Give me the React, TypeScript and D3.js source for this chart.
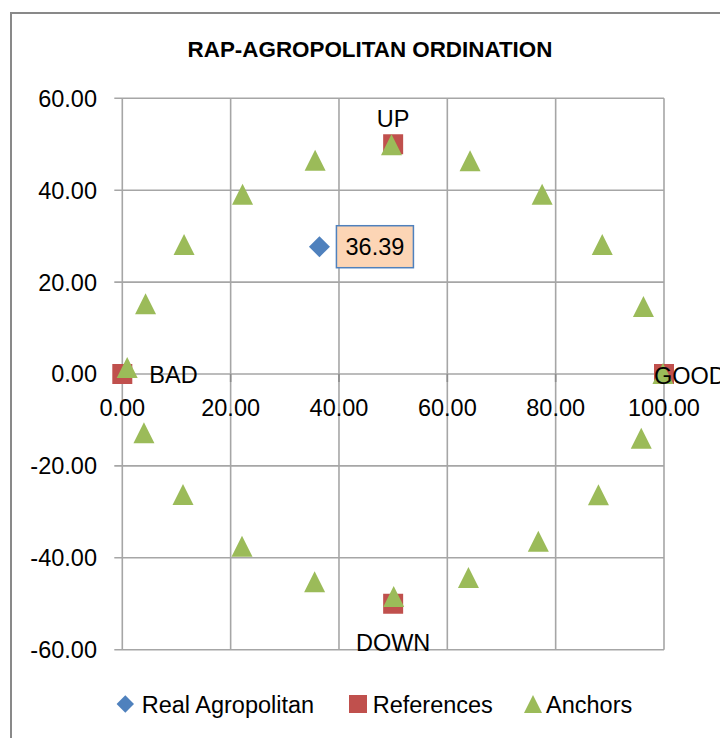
import React from "react";
import * as d3 from "d3";

const title = "RAP-AGROPOLITAN ORDINATION";
const xTicks = [0, 20, 40, 60, 80, 100];
const yTicks = [-60, -40, -20, 0, 20, 40, 60];

const realX = [36.39];
const realY = [27.7];
const realLabels = ["36.39"];

const refX = [0, 100, 50, 50];
const refY = [0, 0, 50, -50];
const refLabels = ["BAD", "GOOD", "UP", "DOWN"];

const anchorX = [0.9, 4.3, 11.4, 22.2, 35.6, 49.7, 64.2, 77.5, 88.6, 96.2, 99.8, 95.8, 87.9, 76.8, 63.9, 50.1, 35.5, 22.1, 11.2, 4.0];
const anchorY = [1.4, 15.3, 28.2, 39.1, 46.5, 49.9, 46.4, 39.1, 28.2, 14.7, 0.1, -14.0, -26.3, -36.4, -44.3, -48.4, -45.2, -37.5, -26.2, -12.8];

const legendNames = ["Real Agropolitan", "References", "Anchors"];

const BLUE = "#4F81BD";
const RED = "#C0504D";
const GREEN = "#9BBB59";
const GRID = "#A6A6A6";
const FONT = "'Liberation Sans', Arial, sans-serif";
const FS = 23.5;

const diamond = (cx: number, cy: number, r: number) =>
  `M${cx},${cy - r}L${cx + r},${cy}L${cx},${cy + r}L${cx - r},${cy}Z`;
const square = (cx: number, cy: number, r: number) =>
  `M${cx - r},${cy - r}H${cx + r}V${cy + r}H${cx - r}Z`;
const triangle = (cx: number, cy: number, r: number) =>
  `M${cx},${cy - r}L${cx + r},${cy + r}L${cx - r},${cy + r}Z`;

export default function App() {
  const x = d3.scaleLinear().domain([0, 100]).range([122.3, 664]);
  const y = d3.scaleLinear().domain([-60, 60]).range([649.7, 98.3]);

  // label offsets relative to reference point (dx, dy baseline, anchor)
  const refLabelPos: Record<string, [number, number, string]> = {
    BAD: [27, 8.5, "start"],
    GOOD: [-10, 10, "start"],
    UP: [0, -17, "middle"],
    DOWN: [0, 47, "middle"],
  };

  const legendMarkers = [
    (cx: number, cy: number) => <path d={diamond(cx, cy, 8.7)} fill={BLUE} />,
    (cx: number, cy: number) => <path d={square(cx, cy, 9)} fill={RED} />,
    (cx: number, cy: number) => <path d={triangle(cx, cy, 9)} fill={GREEN} />,
  ];
  const legendMarkerX = [125.3, 358, 533];
  const legendTextX = [141.7, 372.7, 546];
  const legendY = 705;

  return (
    <svg
      width={720}
      height={738}
      style={{ position: "absolute", left: 0, top: 0, background: "#fff" }}
      fontFamily={FONT}
    >
      <rect x={0} y={0} width={720} height={738} fill="#fff" />
      <rect x={11} y={13} width={740} height={760} fill="#fff" stroke="#898989" strokeWidth={2} />
      <text x={370} y={57} textAnchor="middle" fontWeight="bold" fontSize={22.4} fill="#000">
        {title}
      </text>

      {/* gridlines */}
      {yTicks.map((t) => (
        <line key={"gy" + t} x1={x(0) - 8} x2={x(100)} y1={y(t)} y2={y(t)} stroke={GRID} strokeWidth={1.6} />
      ))}
      {xTicks.map((t) => (
        <line key={"gx" + t} x1={x(t)} x2={x(t)} y1={y(60)} y2={y(-60)} stroke={GRID} strokeWidth={1.6} />
      ))}
      {/* x axis ticks */}
      {xTicks.map((t) => (
        <line key={"tx" + t} x1={x(t)} x2={x(t)} y1={y(0)} y2={y(0) + 8} stroke="#8C8C8C" strokeWidth={1.6} />
      ))}

      {/* y tick labels */}
      {yTicks.map((t) => (
        <text key={"ly" + t} x={97} y={y(t) + 8.4} textAnchor="end" fontSize={FS} fill="#000">
          {t.toFixed(2)}
        </text>
      ))}
      {/* x tick labels */}
      {xTicks.map((t) => (
        <text key={"lx" + t} x={x(t)} y={416} textAnchor="middle" fontSize={FS} fill="#000">
          {t.toFixed(2)}
        </text>
      ))}

      {/* real */}
      {realX.map((v, i) => (
        <path key={"r" + i} d={diamond(x(v), y(realY[i]), 10.5)} fill={BLUE} />
      ))}
      {/* references */}
      {refX.map((v, i) => (
        <path key={"s" + i} d={square(x(v), y(refY[i]), 10)} fill={RED} />
      ))}
      {/* anchors */}
      {anchorX.map((v, i) => (
        <path key={"a" + i} d={triangle(x(v), y(anchorY[i]), 10.5)} fill={GREEN} />
      ))}

      {/* real label */}
      {realX.map((v, i) => (
        <g key={"rl" + i}>
          <rect x={x(v) + 17} y={y(realY[i]) - 21} width={77} height={42} fill="#FCD5B5" stroke={BLUE} strokeWidth={1.5} />
          <text x={x(v) + 55.5} y={y(realY[i]) + 8.4} textAnchor="middle" fontSize={FS} fill="#000">
            {realLabels[i]}
          </text>
        </g>
      ))}
      {/* reference labels */}
      {refX.map((v, i) => {
        const [dx, dy, anchor] = refLabelPos[refLabels[i]];
        return (
          <text key={"sl" + i} x={x(v) + dx} y={y(refY[i]) + dy} textAnchor={anchor as any} fontSize={FS} fill="#000">
            {refLabels[i]}
          </text>
        );
      })}

      {/* legend */}
      {legendNames.map((n, i) => (
        <g key={"lg" + i}>
          {legendMarkers[i](legendMarkerX[i], legendY - 1)}
          <text x={legendTextX[i]} y={legendY + 8.4} fontSize={FS} fill="#000">
            {n}
          </text>
        </g>
      ))}
    </svg>
  );
}
